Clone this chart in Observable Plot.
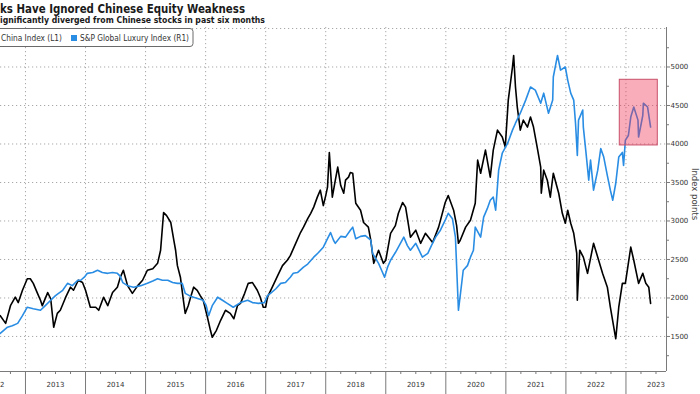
<!DOCTYPE html>
<html>
<head>
<meta charset="utf-8">
<script src="https://cdn.jsdelivr.net/npm/d3@7"></script>
<script src="https://cdn.jsdelivr.net/npm/@observablehq/plot@0.6"></script>
<style>
  html, body { margin: 0; padding: 0; background: #fff; overflow: hidden; }
  #wrap { position: relative; width: 700px; height: 394px; font-family: "DejaVu Sans", sans-serif; }
  #chart { position: absolute; left: 0; top: 0; }
  #overlay { position: absolute; left: 0; top: 0; pointer-events: none; }
</style>
</head>
<body>
<div id="wrap">
  <div id="chart"></div>
  <svg id="overlay" width="700" height="394"></svg>
</div>
<script>
// ---- Data (decimal year, index points) ----
const titleText = "ks Have Ignored Chinese Equity Weakness";
const subtitleText = "ignificantly diverged from Chinese stocks in past six months";
const legendLabels = ["China Index (L1)", "S&P Global Luxury Index (R1)"];
const axisTitle = "Index points";

const yearLabels = [2012, 2013, 2014, 2015, 2016, 2017, 2018, 2019, 2020, 2021, 2022, 2023];
const yearBounds = [2013, 2014, 2015, 2016, 2017, 2018, 2019, 2020, 2021, 2022, 2023];
const yTickValues = [1500, 2000, 2500, 3000, 3500, 4000, 4500, 5000];
const yGridValues = [1500, 2000, 2500, 3000, 3500, 4000, 4500, 5000, 5500];
const xDomain = [2012.584, 2023.675];
const yDomain = [1045, 5513];

// highlighted box: [x1, x2, y1, y2]
const highlight = [2022.897, 2023.53, 3981, 4834];

const chinaIndex = [
[2012.58,1770],[2012.67,1670],[2012.75,1900],[2012.83,2010],[2012.88,1940],[2012.95,2100],[2013.03,2250],[2013.08,2250],[2013.13,2190],[2013.20,2060],[2013.25,1970],[2013.28,1900],[2013.37,2070],[2013.42,1990],[2013.47,1620],[2013.53,1800],[2013.58,1840],[2013.67,2010],[2013.75,2140],[2013.80,2100],[2013.88,2230],[2013.95,2200],[2014.00,2100],[2014.08,1880],[2014.17,1880],[2014.22,1840],[2014.30,2010],[2014.37,1900],[2014.45,2070],[2014.53,2140],[2014.58,2270],[2014.63,2360],[2014.70,2160],[2014.78,2060],[2014.87,2160],[2014.95,2230],[2015.03,2360],[2015.12,2380],[2015.20,2450],[2015.25,2620],[2015.30,3110],[2015.35,3070],[2015.42,2980],[2015.47,2750],[2015.50,2620],[2015.53,2420],[2015.58,2270],[2015.63,1970],[2015.66,1800],[2015.71,1900],[2015.75,2010],[2015.80,2140],[2015.86,2100],[2015.91,2030],[2015.96,1970],[2016.03,1750],[2016.08,1580],[2016.11,1490],[2016.18,1580],[2016.25,1710],[2016.33,1840],[2016.41,1800],[2016.47,1730],[2016.53,1900],[2016.58,1930],[2016.65,2060],[2016.71,2190],[2016.78,2200],[2016.86,2100],[2016.91,2010],[2016.96,1880],[2017.00,1880],[2017.03,2010],[2017.11,2140],[2017.20,2290],[2017.28,2420],[2017.36,2490],[2017.41,2550],[2017.50,2710],[2017.58,2850],[2017.63,2920],[2017.70,3030],[2017.75,3100],[2017.80,3180],[2017.86,3310],[2017.91,3400],[2017.96,3200],[2018.00,3330],[2018.03,3440],[2018.06,3890],[2018.11,3310],[2018.16,3530],[2018.20,3700],[2018.25,3460],[2018.30,3360],[2018.33,3530],[2018.38,3570],[2018.41,3630],[2018.45,3620],[2018.50,3230],[2018.58,3140],[2018.63,2980],[2018.71,2920],[2018.75,2750],[2018.80,2450],[2018.88,2620],[2018.96,2450],[2019.00,2490],[2019.08,2840],[2019.16,2940],[2019.21,3100],[2019.28,3240],[2019.33,3180],[2019.38,2940],[2019.41,2790],[2019.50,2880],[2019.58,2710],[2019.66,2840],[2019.78,2720],[2019.88,2920],[2019.99,3240],[2020.04,3330],[2020.13,3140],[2020.18,2940],[2020.21,2710],[2020.24,2750],[2020.33,2920],[2020.41,3010],[2020.49,3230],[2020.53,3790],[2020.58,3620],[2020.66,3920],[2020.74,3570],[2020.79,3920],[2020.86,4180],[2020.94,4090],[2020.99,3960],[2021.04,4570],[2021.11,5000],[2021.13,5150],[2021.16,4740],[2021.19,4480],[2021.24,4180],[2021.29,4310],[2021.36,4220],[2021.41,4350],[2021.46,4220],[2021.53,3920],[2021.58,3700],[2021.59,3360],[2021.63,3660],[2021.69,3530],[2021.74,3310],[2021.79,3620],[2021.88,3360],[2021.94,3100],[2021.99,2970],[2022.03,3140],[2022.08,2970],[2022.13,2840],[2022.18,2580],[2022.19,1970],[2022.23,2620],[2022.29,2530],[2022.36,2320],[2022.46,2710],[2022.53,2530],[2022.61,2320],[2022.69,2140],[2022.74,1880],[2022.83,1470],[2022.88,1880],[2022.94,2190],[2022.99,2190],[2023.08,2660],[2023.13,2490],[2023.21,2190],[2023.28,2320],[2023.33,2190],[2023.38,2140],[2023.41,1930]
];

const luxuryIndex = [
[2012.58,1540],[2012.70,1620],[2012.78,1640],[2012.87,1670],[2012.95,1770],[2013.03,1880],[2013.13,1860],[2013.25,1840],[2013.33,1900],[2013.42,1970],[2013.50,2030],[2013.55,2060],[2013.62,2100],[2013.70,2190],[2013.78,2160],[2013.87,2230],[2013.92,2230],[2013.98,2270],[2014.03,2320],[2014.12,2330],[2014.20,2360],[2014.28,2330],[2014.37,2320],[2014.45,2330],[2014.53,2320],[2014.58,2280],[2014.62,2200],[2014.70,2160],[2014.80,2140],[2014.92,2160],[2015.03,2190],[2015.12,2220],[2015.20,2250],[2015.28,2230],[2015.37,2230],[2015.45,2200],[2015.53,2190],[2015.61,2190],[2015.66,2060],[2015.73,2030],[2015.80,2010],[2015.88,1990],[2015.96,1970],[2016.01,1900],[2016.05,1770],[2016.11,1900],[2016.20,2010],[2016.28,1970],[2016.36,1930],[2016.46,1880],[2016.58,1940],[2016.70,1970],[2016.78,1940],[2016.88,1930],[2016.98,1940],[2017.03,2030],[2017.08,2060],[2017.17,2120],[2017.25,2190],[2017.33,2200],[2017.41,2270],[2017.46,2320],[2017.53,2330],[2017.63,2400],[2017.70,2440],[2017.80,2530],[2017.88,2590],[2017.96,2660],[2018.03,2770],[2018.08,2850],[2018.13,2750],[2018.16,2710],[2018.25,2800],[2018.33,2790],[2018.41,2880],[2018.45,2920],[2018.50,2770],[2018.58,2800],[2018.66,2810],[2018.75,2750],[2018.78,2580],[2018.88,2450],[2018.93,2360],[2018.98,2270],[2019.03,2400],[2019.08,2490],[2019.16,2590],[2019.21,2660],[2019.30,2790],[2019.36,2680],[2019.41,2620],[2019.50,2710],[2019.61,2530],[2019.70,2580],[2019.76,2680],[2019.83,2790],[2019.91,2880],[2019.99,3010],[2020.04,3100],[2020.11,3030],[2020.16,2790],[2020.21,1840],[2020.24,2030],[2020.29,2360],[2020.36,2420],[2020.41,2530],[2020.46,2620],[2020.49,2920],[2020.58,2790],[2020.63,3050],[2020.69,3160],[2020.74,3270],[2020.79,3310],[2020.83,3140],[2020.88,3660],[2020.94,3880],[2021.03,4010],[2021.11,4180],[2021.16,4270],[2021.24,4400],[2021.33,4570],[2021.41,4740],[2021.49,4700],[2021.58,4530],[2021.63,4660],[2021.71,4400],[2021.78,4570],[2021.79,4870],[2021.86,5150],[2021.91,4960],[2021.99,5000],[2022.03,4830],[2022.08,4660],[2022.13,4570],[2022.16,4270],[2022.19,3850],[2022.21,4310],[2022.28,4440],[2022.29,4220],[2022.33,3920],[2022.38,3530],[2022.41,3790],[2022.46,3400],[2022.53,3660],[2022.58,3940],[2022.63,3830],[2022.69,3590],[2022.74,3400],[2022.78,3270],[2022.83,3490],[2022.88,3830],[2022.94,3890],[2022.96,3720],[2022.99,4050],[2023.04,4110],[2023.08,4350],[2023.13,4480],[2023.20,4310],[2023.21,4090],[2023.28,4370],[2023.29,4530],[2023.36,4480],[2023.41,4220]
];

// ---- Styles ----
const BLUE = "#2a8de4";
const GRID = "#a8a8a8";
const AXIS = "#7a7a7a";

const quarterTicks = [];
for (let y = 2012; y <= 2023; y++) for (const q of [0.25, 0.5, 0.75]) {
  const t = y + q; if (t > xDomain[0] && t < xDomain[1]) quarterTicks.push(t);
}
const minorY = [1250, 1750, 2250, 2750, 3250, 3750, 4250, 4750, 5250];
const blank = () => "";

const chart = Plot.plot({
  width: 700, height: 394,
  marginLeft: 0, marginRight: 34, marginTop: 27, marginBottom: 23,
  style: { fontFamily: "DejaVu Sans, sans-serif", background: "transparent", overflow: "visible" },
  x: { type: "linear", domain: xDomain, axis: null },
  y: { domain: yDomain, axis: null },
  marks: [
    Plot.ruleY(yGridValues, { stroke: GRID, strokeDasharray: "1.2,2.8", strokeWidth: 1 }),
    Plot.ruleX(yearBounds, { stroke: GRID, strokeDasharray: "1.2,2.8", strokeWidth: 1 }),
    Plot.line(chinaIndex, { x: d => d[0], y: d => d[1], stroke: "#000", strokeWidth: 1.6, strokeLinejoin: "round" }),
    Plot.line(luxuryIndex, { x: d => d[0], y: d => d[1], stroke: BLUE, strokeWidth: 1.6, strokeLinejoin: "round" }),
    Plot.rect([highlight], { x1: d => d[0], x2: d => d[1], y1: d => d[2], y2: d => d[3],
      fill: "rgb(240,50,85)", fillOpacity: 0.4, stroke: "#c8506a", strokeWidth: 1 }),
    Plot.ruleX([xDomain[1]], { stroke: AXIS, strokeWidth: 1 }),
    Plot.ruleY([yDomain[0]], { stroke: AXIS, strokeWidth: 1 }),
    Plot.axisY({ anchor: "right", ticks: yTickValues, tickSize: 3, tickPadding: 1, fontSize: 7,
      tickFormat: d => String(d), stroke: AXIS, fill: "#333" }),
    Plot.axisY({ anchor: "right", ticks: minorY, tickSize: 2, tickFormat: blank, stroke: AXIS }),
    Plot.axisX({ ticks: yearBounds, tickSize: 23, tickFormat: blank, stroke: AXIS }),
    Plot.axisX({ ticks: quarterTicks, tickSize: 3, tickFormat: blank, stroke: AXIS }),
    Plot.axisX({ ticks: yearLabels.map(y => y + 0.5), tickSize: 0, tickPadding: 11, fontSize: 7,
      tickFormat: d => String(Math.floor(d)), fill: "#333" })
  ]
});
document.getElementById("chart").appendChild(chart);

// ---- Title, subtitle, legend and axis title ----
const ov = d3.select("#overlay");
ov.append("text").attr("x", 0).attr("y", 12.5)
  .attr("font-family", "DejaVu Sans, sans-serif").attr("font-weight", "bold").attr("font-size", 12)
  .attr("fill", "#1a1a1a").attr("textLength", 245).attr("lengthAdjust", "spacingAndGlyphs")
  .text(titleText);
ov.append("text").attr("x", 0).attr("y", 23)
  .attr("font-family", "DejaVu Sans, sans-serif").attr("font-weight", "bold").attr("font-size", 9.2)
  .attr("fill", "#1a1a1a").attr("textLength", 265).attr("lengthAdjust", "spacingAndGlyphs")
  .text(subtitleText);

const lg = ov.append("g");
lg.append("rect").attr("x", -6).attr("y", 28.5).attr("width", 199).attr("height", 18)
  .attr("rx", 3).attr("fill", "#fff").attr("stroke", "#6a6a6a").attr("stroke-width", 1);
lg.append("text").attr("x", 1).attr("y", 40.8)
  .attr("font-family", "DejaVu Sans, sans-serif").attr("font-size", 8.8).attr("fill", "#333")
  .attr("textLength", 61).attr("lengthAdjust", "spacingAndGlyphs").text(legendLabels[0]);
lg.append("rect").attr("x", 71).attr("y", 35).attr("width", 6).attr("height", 6).attr("fill", BLUE);
lg.append("text").attr("x", 80).attr("y", 40.8)
  .attr("font-family", "DejaVu Sans, sans-serif").attr("font-size", 8.8).attr("fill", "#333")
  .attr("textLength", 109).attr("lengthAdjust", "spacingAndGlyphs").text(legendLabels[1]);

ov.append("text").attr("transform", "translate(692,194) rotate(90)")
  .attr("text-anchor", "middle")
  .attr("font-family", "DejaVu Sans, sans-serif").attr("font-size", 8.5).attr("fill", "#444")
  .text(axisTitle);
</script>
</body>
</html>
